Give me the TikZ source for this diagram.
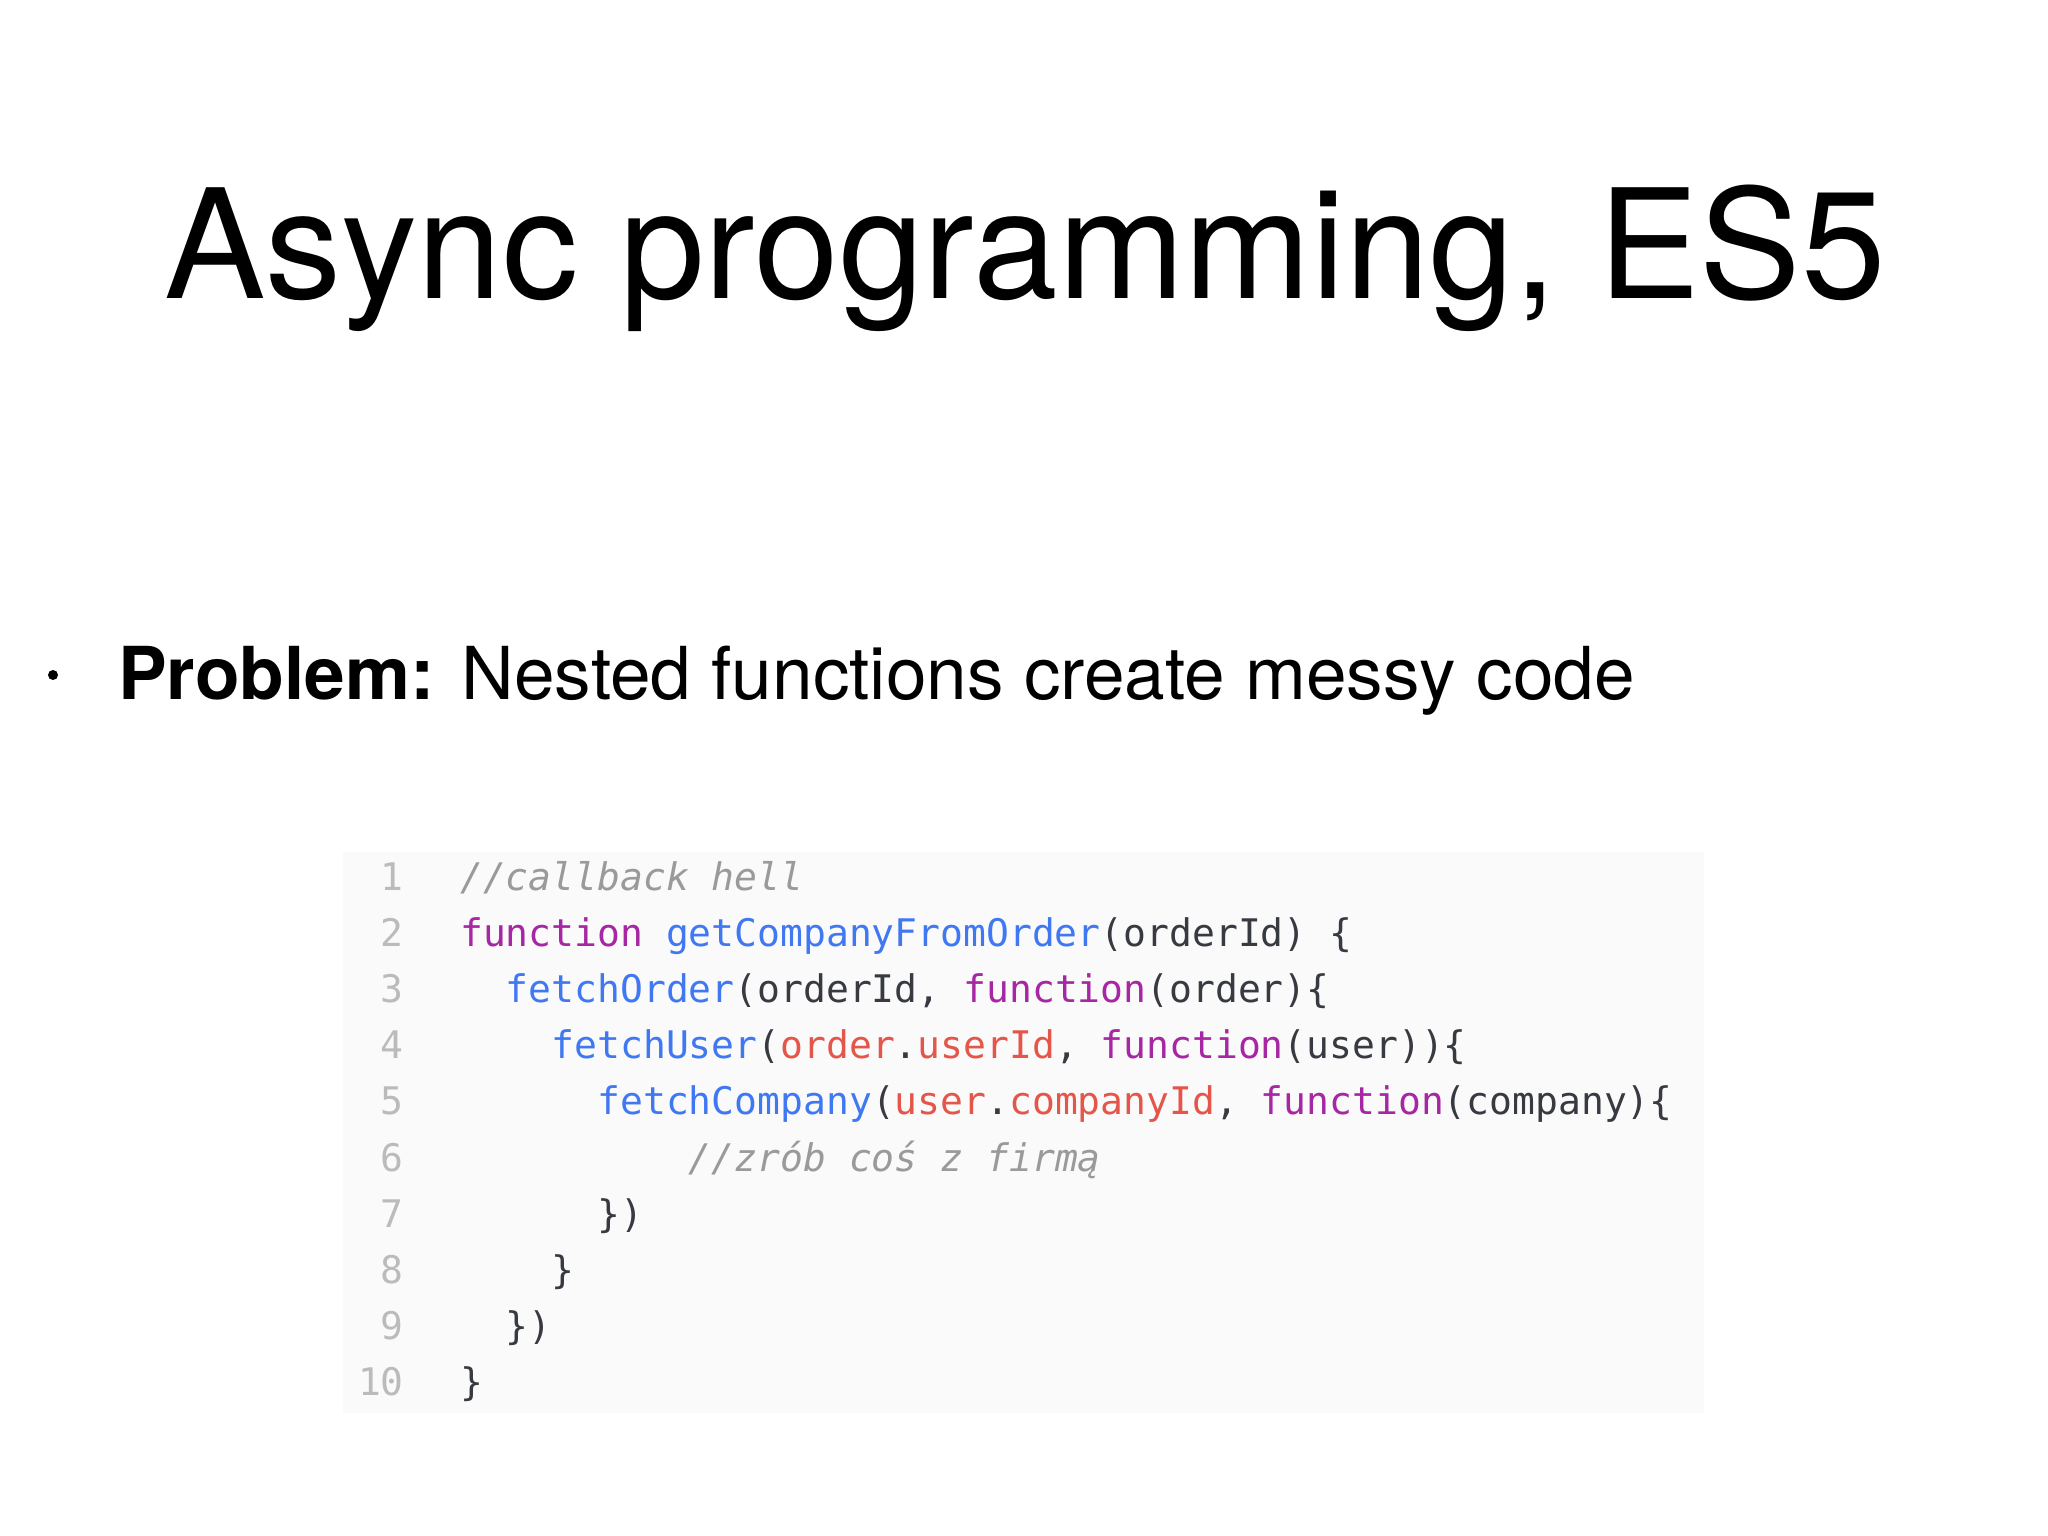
\documentclass[tikz,border=0pt]{standalone}
\usepackage{fontspec}
\setmainfont{TeX Gyre Heros}
\setmonofont{DejaVu Sans Mono}
\definecolor{kw}{HTML}{A626A4}
\definecolor{fn}{HTML}{4078F2}
\definecolor{pr}{HTML}{E45649}
\definecolor{cm}{HTML}{9A9A9A}
\definecolor{ln}{HTML}{BBBBBB}
\definecolor{tx}{HTML}{383A42}
\definecolor{codebg}{HTML}{FAFAFA}
\newcommand{\K}[1]{\textcolor{kw}{#1}}
\newcommand{\F}[1]{\textcolor{fn}{#1}}
\newcommand{\R}[1]{\textcolor{pr}{#1}}
\newcommand{\C}[1]{\textcolor{cm}{\itshape #1}}
\begin{document}
\begin{tikzpicture}[x=1pt,y=-1pt,
  codeline/.style={anchor=base west,inner sep=0pt,font=\fontsize{38}{38}\ttfamily,text=tx},
  lnum/.style={anchor=base east,inner sep=0pt,font=\fontsize{38}{38}\ttfamily,text=ln}]
\useasboundingbox[fill=white] (0,0) rectangle (2048,1536);
\node[anchor=base,inner sep=0pt,font=\fontsize{152}{152}\selectfont] (title) at (1025,298) {Async programming, ES5};
\node[anchor=base west,inner sep=0pt,font=\fontsize{73}{73}\selectfont] (bullet) at (118,699) {\textbf{Problem:} Nested functions create messy code};
\fill (53,675) circle (5);
\node[fill=codebg,inner sep=0pt,minimum width=1361,minimum height=561,anchor=north west] (box) at (343,852) {};
\foreach \n [count=\i] in {1,...,10} {
  \node[lnum] (n\i) at (404,{890+(\i-1)*56.2}) {\n};
}
\node[codeline] (c1) at (460,890) {\C{//callback hell}};
\node[codeline] (c2) at (460,946.2) {\K{function} \F{getCompanyFromOrder}(orderId) \{};
\node[codeline] (c3) at (460,1002.4) {\ \ \F{fetchOrder}(orderId, \K{function}(order)\{};
\node[codeline] (c4) at (460,1058.6) {\ \ \ \ \F{fetchUser}(\R{order}.\R{userId}, \K{function}(user))\{};
\node[codeline] (c5) at (460,1114.8) {\ \ \ \ \ \ \F{fetchCompany}(\R{user}.\R{companyId}, \K{function}(company)\{};
\node[codeline] (c6) at (460,1171) {\ \ \ \ \ \ \ \ \ \ \C{//zrób coś z firmą}};
\node[codeline] (c7) at (460,1227.2) {\ \ \ \ \ \ \})};
\node[codeline] (c8) at (460,1283.4) {\ \ \ \ \}};
\node[codeline] (c9) at (460,1339.6) {\ \ \})};
\node[codeline] (c10) at (460,1395.8) {\}};
\end{tikzpicture}
\end{document}
